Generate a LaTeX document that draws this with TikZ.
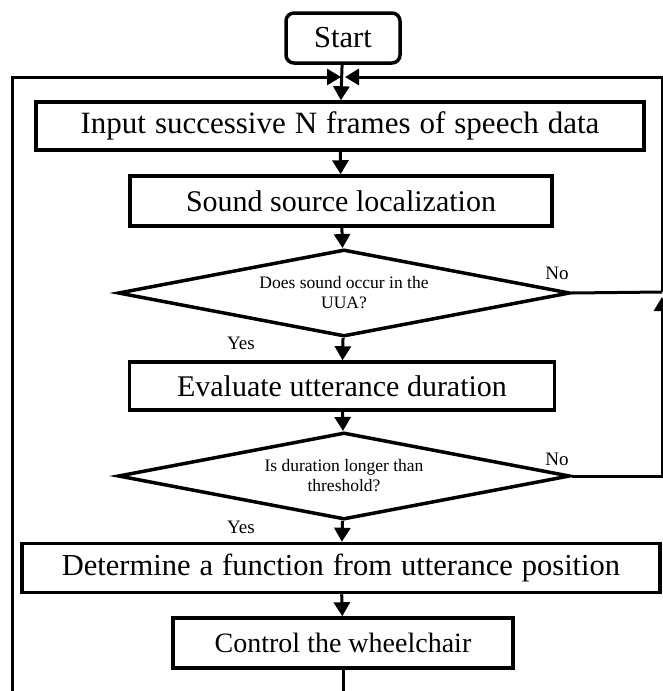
\documentclass[tikz,border=0pt]{standalone}
\usepackage{fontspec}
\setmainfont{Liberation Serif}
\usetikzlibrary{arrows.meta,shapes.geometric}
\newcommand{\wordgap}{\spaceskip 9pt\relax}

\begin{document}
\begin{tikzpicture}[x=1pt,y=-1pt,
  every node/.style={font=\fontsize{30}{34}\selectfont},
  box/.style={draw,line width=3.5pt,rectangle,inner sep=0pt,minimum height=48pt},
  widebox/.style={box,font=\fontsize{31}{34}\selectfont\wordgap},
  startbox/.style={box,rounded corners=8pt,minimum width=114pt,minimum height=50pt,
    font=\fontsize{30.5}{34}\selectfont},
  decision/.style={draw,line width=3.5pt,diamond,aspect=5.2,inner sep=0pt,
    minimum width=452pt,minimum height=87pt,align=center,font=\fontsize{17.5}{20}\selectfont},
  lab/.style={font=\fontsize{19}{20}\selectfont},
  wire/.style={line width=3pt},
  flow/.style={wire,-{Triangle[length=14pt,width=16pt]}}]
  \useasboundingbox (0,0) rectangle (662,691);
  % ---------- the steps ----------
  \node[startbox] (start) at (343,38) {Start};
  \node[widebox,minimum width=608pt] (input) at (340,126) {Input successive N frames of speech data};
  \node[box,minimum width=422pt,minimum height=50pt] (locate) at (341,201) {Sound source localization};
  \node[decision] (uua) at (344,293) {Does sound occur in the\\UUA?};
  \node[box,minimum width=425pt] (evaluate) at (342,386) {Evaluate utterance duration};
  \node[decision] (thresh) at (344,476) {Is duration longer than\\threshold?};
  \node[widebox,minimum width=638pt,minimum height=49pt,font=\fontsize{30.5}{34}\selectfont\wordgap] (determine) at (341,568) {Determine a function from utterance position};
  \node[box,minimum width=340pt,minimum height=50pt,font=\fontsize{28}{32}\selectfont] (control) at (343,643) {Control the wheelchair};
  \node[lab] (no1) at (557,273) {No};
  \node[lab] (yes1) at (241,343) {Yes};
  \node[lab] (no2) at (557,459) {No};
  \node[lab] (yes2) at (241,527) {Yes};
  % ---------- loop ends (the frame cuts them) ----------
  \coordinate (mergeL) at (341,77);
  \coordinate (mergeR) at (345,77);
  \coordinate (loopL) at (12,691);
  \coordinate (loopB) at (343,691);
  \coordinate (joinR) at (662,292);
  \coordinate (joinRb) at (662,297);
  % ---------- connectors ----------
  \draw[flow] (start) -- (input);
  \draw[flow] (input) -- (locate);
  \draw[flow] (locate) -- (uua);
  \draw[flow] (uua) -- (evaluate);
  \draw[flow] (evaluate) -- (thresh);
  \draw[flow] (thresh) -- (determine);
  \draw[flow] (determine) -- (control);
  \draw[wire] (control) -- (loopB);
  \draw[flow] (loopL) |- (mergeL);
  \draw[wire] (uua.east) -- (joinR);
  \draw[flow] (thresh.east) -| (joinRb);
  \draw[flow] (joinR) |- (mergeR);
\end{tikzpicture}
\end{document}
